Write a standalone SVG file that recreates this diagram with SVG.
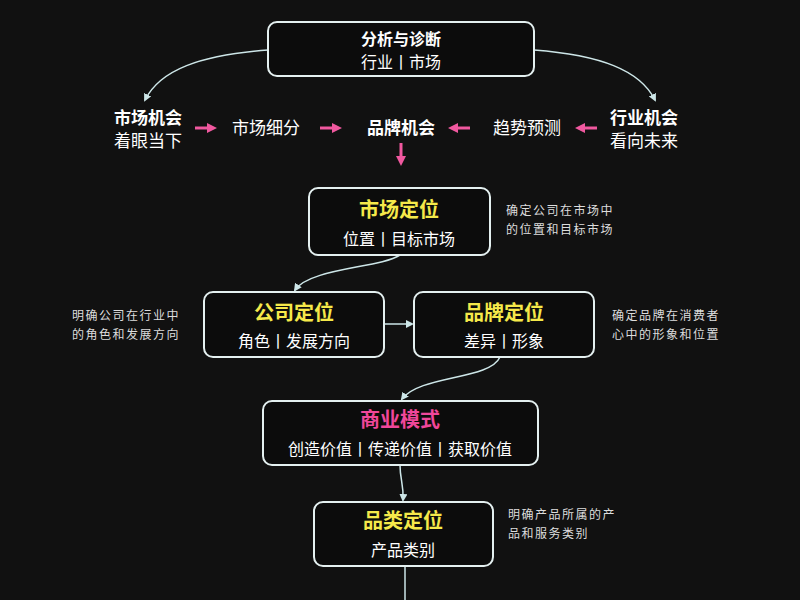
<svg xmlns="http://www.w3.org/2000/svg" width="800" height="600" viewBox="0 0 800 600">
<defs>
<style>
.box{fill:#0c0c0c;stroke:#e4f0f0;stroke-width:2}
.t{font-family:"Noto Sans CJK SC",sans-serif;fill:#fff;text-anchor:middle}
.b{font-weight:bold}
.y{fill:#f5e94a;font-weight:bold;font-size:20px}
.p{fill:#f0479a;font-weight:bold;font-size:20px}
.n{font-family:"Noto Sans CJK SC",sans-serif;fill:#ddd;font-size:12px;letter-spacing:1.5px}
.c{fill:none;stroke:#cde6e8;stroke-width:1.5}
.pk{fill:none;stroke:#f0589f;stroke-width:3}
</style>
<marker id="a" markerWidth="8" markerHeight="8" refX="6" refY="4" orient="auto" markerUnits="userSpaceOnUse"><path d="M0,0 L8,4 L0,8 z" fill="#cde6e8"/></marker>
<marker id="pa" markerWidth="10" markerHeight="10" refX="5" refY="5" orient="auto" markerUnits="userSpaceOnUse"><path d="M0,0 L10,5 L0,10 z" fill="#f0589f"/></marker>
</defs>
<rect width="800" height="600" fill="#111"/>
<g id="connectors">
<path class="c" d="M268,50 C200,55 160,70 145,100" marker-end="url(#a)"/>
<path class="c" d="M534,50 C600,55 640,70 655,100" marker-end="url(#a)"/>
<path class="pk" d="M195,128 L212,128" marker-end="url(#pa)"/>
<path class="pk" d="M320,128 L337,128" marker-end="url(#pa)"/>
<path class="pk" d="M470,128 L453,128" marker-end="url(#pa)"/>
<path class="pk" d="M597,128 L580,128" marker-end="url(#pa)"/>
<path class="pk" d="M401,143 L401,161" marker-end="url(#pa)"/>
<path class="c" d="M400,255 C380,268 310,268 295,290" marker-end="url(#a)"/>
<path class="c" d="M384,324 L412,324" marker-end="url(#a)"/>
<path class="c" d="M500,357 C490,380 420,375 402,399" marker-end="url(#a)"/>
<path class="c" d="M400,465 C400,480 404,485 403,500" marker-end="url(#a)"/>
<path class="c" d="M405,566 L405,600"/>
</g>
<g id="n1"><rect class="box" x="268" y="22" width="266" height="54" rx="9"/>
<text class="t b" x="401" y="45" font-size="16">分析与诊断</text><text class="t" x="401" y="68" font-size="16">行业丨市场</text></g>
<g id="n2"><text class="t b" x="148" y="124" font-size="17">市场机会</text><text class="t" x="148" y="147" font-size="17">着眼当下</text></g>
<g id="n3"><text class="t" x="266" y="134" font-size="17">市场细分</text></g>
<g id="n4"><text class="t b" x="401" y="134" font-size="17">品牌机会</text></g>
<g id="n5"><text class="t" x="527" y="134" font-size="17">趋势预测</text></g>
<g id="n6"><text class="t b" x="644" y="124" font-size="17">行业机会</text><text class="t" x="644" y="147" font-size="17">看向未来</text></g>
<g id="n7"><rect class="box" x="309" y="188" width="181" height="67" rx="9"/>
<text class="t y" x="399" y="217">市场定位</text><text class="t" x="399" y="245" font-size="16">位置丨目标市场</text></g>
<g id="n8"><rect class="box" x="204" y="292" width="180" height="65" rx="9"/>
<text class="t y" x="294" y="320">公司定位</text><text class="t" x="294" y="347" font-size="16">角色丨发展方向</text></g>
<g id="n9"><rect class="box" x="414" y="292" width="180" height="65" rx="9"/>
<text class="t y" x="504" y="320">品牌定位</text><text class="t" x="504" y="347" font-size="16">差异丨形象</text></g>
<g id="n10"><rect class="box" x="263" y="401" width="275" height="64" rx="9"/>
<text class="t p" x="400" y="427">商业模式</text><text class="t" x="400" y="455" font-size="16">创造价值丨传递价值丨获取价值</text></g>
<g id="n11"><rect class="box" x="314" y="502" width="179" height="64" rx="9"/>
<text class="t y" x="403" y="528">品类定位</text><text class="t" x="403" y="556" font-size="16">产品类别</text></g>
<g id="notes">
<text class="n" x="506" y="215">确定公司在市场中</text><text class="n" x="506" y="234">的位置和目标市场</text>
<text class="n" x="72" y="320">明确公司在行业中</text><text class="n" x="72" y="339">的角色和发展方向</text>
<text class="n" x="612" y="320">确定品牌在消费者</text><text class="n" x="612" y="339">心中的形象和位置</text>
<text class="n" x="508" y="519">明确产品所属的产</text><text class="n" x="508" y="538">品和服务类别</text>
</g>
</svg>
